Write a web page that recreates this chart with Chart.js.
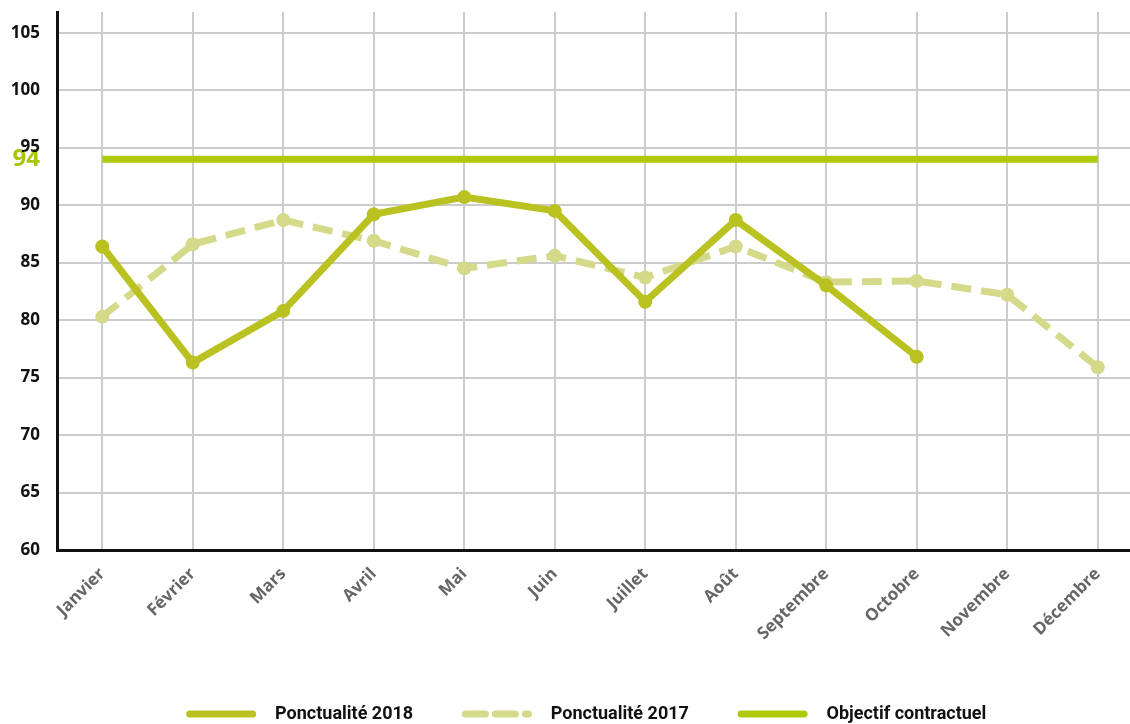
<!DOCTYPE html>
<html>
<head>
<meta charset="utf-8">
<script src="https://cdn.jsdelivr.net/npm/chart.js@4/dist/chart.umd.min.js"></script>
<style>
    body { margin: 0; background: #fff; overflow: hidden; }
    #wrap { width: 1150px; height: 724px; }
</style>
</head>
<body>
<div id="wrap"><canvas id="chart-line"></canvas></div>
<script>
const months = ['Janvier', 'Février', 'Mars', 'Avril', 'Mai', 'Juin', 'Juillet', 'Août', 'Septembre', 'Octobre', 'Novembre', 'Décembre'];
const ponct2018 = [86.4, 76.3, 80.8, 89.2, 90.7, 89.5, 81.6, 88.7, 83.0, 76.8, null, null];
const ponct2017 = [80.3, 86.6, 88.7, 86.9, 84.5, 85.6, 83.7, 86.4, 83.3, 83.4, 82.2, 75.9];
const objectif = [94, 94, 94, 94, 94, 94, 94, 94, 94, 94, 94, 94];
const yTicks = [60, 65, 70, 75, 80, 85, 90, 94, 95, 100, 105];

const green2018 = '#b9c221';
const green2017 = '#d5d98a';
const greenObj = '#afc90d';

// the legend sits a little right of the canvas centre in the original
const shiftLegend = {
    id: 'shiftLegend',
    afterLayout(chart) {
        chart.legend.left += 13;
        chart.legend.right += 13;
    }
};

var ctx = document.getElementById("chart-line").getContext("2d");

new Chart(ctx, {
    type: "line",
    plugins: [shiftLegend],
    data: {
        labels: months,
        datasets: [{
            label: "Ponctualité 2018",
            data: ponct2018,
            borderColor: green2018,
            backgroundColor: green2018,
            borderWidth: 7,
            pointRadius: 7,
            pointBackgroundColor: green2018,
            pointBorderWidth: 0,
            tension: 0
        },
        {
            label: "Ponctualité 2017",
            data: ponct2017,
            borderColor: green2017,
            backgroundColor: green2017,
            borderWidth: 7,
            borderDash: [20, 10],
            pointRadius: 7,
            pointBackgroundColor: green2017,
            pointBorderWidth: 0,
            tension: 0
        },
        {
            label: "Objectif contractuel",
            data: objectif,
            borderColor: greenObj,
            backgroundColor: greenObj,
            borderWidth: 7,
            pointRadius: 0,
            tension: 0
        }]
    },
    options: {
        responsive: true,
        maintainAspectRatio: false,
        animation: false,
        layout: {
            padding: { top: 12, left: 0, right: 0, bottom: -9 }
        },
        plugins: {
            tooltip: { enabled: false },
            legend: {
                display: true,
                position: 'bottom',
                labels: {
                    usePointStyle: true,
                    pointStyleWidth: 63,
                    padding: 12,
                    color: '#111',
                    font: { size: 18, family: "Roboto", weight: 'bold' },
                    generateLabels: function (chart) {
                        const n = chart.data.datasets.length;
                        return chart.data.datasets.map((ds, i) => ({
                            // extra spaces give the gaps seen in the original legend
                            text: '\u00a0\u00a0\u00a0' + ds.label + (i < n - 1 ? '\u00a0'.repeat(9) : ''),
                            datasetIndex: i,
                            fillStyle: ds.borderColor,
                            strokeStyle: ds.borderColor,
                            lineWidth: 7,
                            lineDash: ds.borderDash || [],
                            lineCap: 'round',
                            pointStyle: 'line',
                            fontColor: '#111'
                        }));
                    }
                }
            }
        },
        scales: {
            y: {
                min: 60,
                max: 106.8,
                afterFit: function (scale) {
                    scale.width = 57;
                    scale.paddingTop = 0;
                    scale.paddingBottom = 0;
                },
                afterBuildTicks: function (scale) {
                    scale.ticks = yTicks.map(v => ({ value: v }));
                },
                border: { display: true, color: '#111', width: 3 },
                grid: {
                    drawTicks: false,
                    lineWidth: 2,
                    color: c => c.tick && c.tick.value === 94 ? 'rgba(0,0,0,0)' : '#cccccc'
                },
                ticks: {
                    padding: 17,
                    color: c => c.tick && c.tick.value === 94 ? '#a9c40b' : '#111',
                    font: c => c.tick && c.tick.value === 94
                        ? { size: 24, family: "Open Sans", weight: 'bold' }
                        : { size: 17, family: "Open Sans", weight: 'bold' }
                }
            },
            x: {
                offset: true,
                afterFit: function (scale) { scale.height = 143; },
                border: { display: true, color: '#111', width: 3 },
                grid: {
                    offset: false,
                    drawTicks: false,
                    lineWidth: 2,
                    color: '#cccccc'
                },
                ticks: {
                    padding: 14,
                    minRotation: 45,
                    maxRotation: 45,
                    color: '#666',
                    font: { size: 17, family: "Open Sans", weight: 'bold' }
                }
            }
        }
    }
});
</script>
</body>
</html>
